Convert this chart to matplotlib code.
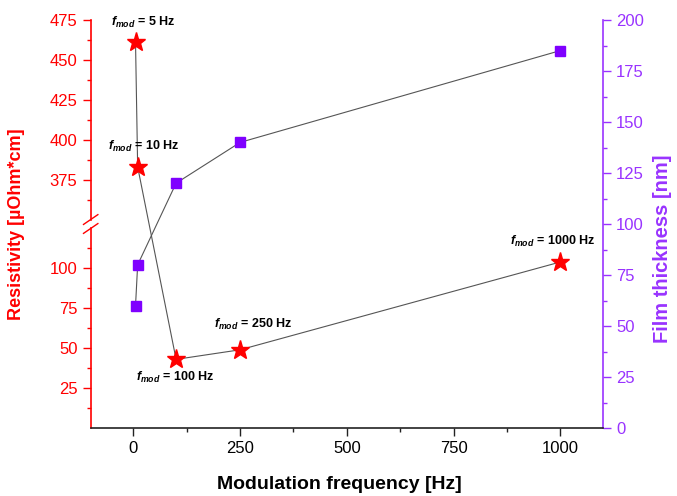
import numpy as np
import matplotlib
matplotlib.use("Agg")
import matplotlib.pyplot as plt
from matplotlib.ticker import FixedLocator, MultipleLocator

# ---------------- data ----------------
freq = [5, 10, 100, 250, 1000]
resistivity = [461, 383, 43, 49, 104]          # µOhm*cm (left axis, stars)
thickness = [60, 80, 120, 140, 185]            # nm (right axis, squares)
labels = ["5 Hz", "10 Hz", "100 Hz", "250 Hz", "1000 Hz"]
left_major = [25, 50, 75, 100, 375, 400, 425, 450, 475]
left_minor = [12.5, 37.5, 62.5, 87.5, 112.5, 362.5, 387.5, 412.5, 437.5, 462.5]
x_ticks = [0, 250, 500, 750, 1000]

# ---------------- style ----------------
RED = "#ff0000"
PURPLE = "#9933ff"
SQ = "#7f00ff"
LINE = "#555555"
label_offsets = [(8, 20), (6, 20), (-1, -18), (13, 25), (-8, 21)]  # pixels

plt.rcParams["font.family"] = ["Liberation Sans", "DejaVu Sans"]
plt.rcParams["mathtext.fontset"] = "custom"
plt.rcParams["mathtext.it"] = "Liberation Sans:italic:bold"
plt.rcParams["mathtext.rm"] = "Liberation Sans:bold"
plt.rcParams["mathtext.bf"] = "Liberation Sans:bold"

B1, B2, G = 125.0, 350.0, 5.6


def fwd(v):
    v = np.asarray(v, dtype=float)
    return np.where(v <= B1, v,
                    np.where(v >= B2, v - B2 + B1 + G, B1 + (v - B1) * G / (B2 - B1)))


def inv(u):
    u = np.asarray(u, dtype=float)
    return np.where(u <= B1, u,
                    np.where(u >= B1 + G, u - B1 - G + B2, B1 + (u - B1) * (B2 - B1) / G))


fig = plt.figure(figsize=(6.77, 4.96), dpi=100)
ax = fig.add_axes([90.7 / 677, 1 - 428 / 496, (603 - 90.7) / 677, (428 - 20) / 496])
ax.set_yscale("function", functions=(fwd, inv))
ax.set_xlim(-100, 1100)
ax.set_ylim(0, 475)

ax2 = ax.twinx()
ax2.set_ylim(0, 200)

# lines + markers
ax2.plot(freq, thickness, color=LINE, lw=0.8, zorder=2)
ax2.plot(freq, thickness, ls="none", marker="s", ms=7, color=SQ, mec=SQ, zorder=3)
ax.plot(freq, resistivity, color=LINE, lw=0.8, zorder=2)
ax.plot(freq, resistivity, ls="none", marker="*", ms=14, color=RED, mec=RED, zorder=3)
ax.set_zorder(ax2.get_zorder() + 1)
ax.patch.set_visible(False)

for f, r, lab, off in zip(freq, resistivity, labels, label_offsets):
    ax.annotate(r"$f_{mod}$ = " + lab, (f, r), xytext=off, textcoords="offset pixels",
                ha="center", va="center", fontsize=9, fontweight="bold", color="black")

# spines
for a in (ax, ax2):
    a.spines["top"].set_visible(False)
ax.spines["right"].set_visible(False)
ax2.spines["left"].set_visible(False)
ax2.spines["bottom"].set_visible(False)
ax.spines["left"].set_visible(False)
ax2.spines["right"].set_color(PURPLE)
ax2.spines["right"].set_linewidth(1.2)
ax.spines["bottom"].set_color("#222222")
ax.spines["bottom"].set_linewidth(1.2)

# left spine drawn manually with break
ytop_low = fwd(B1) / fwd(475)
ybot_up = fwd(B2) / fwd(475)
ax.plot([0, 0], [0, ytop_low], transform=ax.transAxes, color=RED, lw=1.2, clip_on=False)
ax.plot([0, 0], [ybot_up, 1], transform=ax.transAxes, color=RED, lw=1.2, clip_on=False)
for yb in (ytop_low, ybot_up):
    ax.plot([-0.014, 0.014], [yb - 0.012, yb + 0.012], transform=ax.transAxes,
            color=RED, lw=1.0, clip_on=False)

# ticks
ax.yaxis.set_major_locator(FixedLocator(left_major))
ax.yaxis.set_minor_locator(FixedLocator(left_minor))
ax.set_yticklabels([str(v) for v in left_major])
ax.xaxis.set_major_locator(FixedLocator(x_ticks))
ax.xaxis.set_minor_locator(MultipleLocator(125))
ax2.yaxis.set_major_locator(MultipleLocator(25))
ax2.yaxis.set_minor_locator(MultipleLocator(12.5))

ax.tick_params(axis="y", which="major", direction="out", length=6, width=1, color=RED,
               labelcolor=RED, labelsize=12, pad=3.5)
ax.tick_params(axis="y", which="minor", direction="out", length=3, width=1, color=RED)
ax.tick_params(axis="x", which="major", direction="out", length=6, width=1, color="#222222",
               labelsize=12, pad=3.5)
ax.tick_params(axis="x", which="minor", direction="out", length=3, width=1, color="#222222")
ax2.tick_params(axis="y", which="major", direction="out", length=6, width=1, color=PURPLE,
                labelcolor=PURPLE, labelsize=12, pad=3.5)
ax2.tick_params(axis="y", which="minor", direction="out", length=3, width=1, color=PURPLE)

ax.set_xlabel("Modulation frequency [Hz]", fontsize=14, fontweight="bold")
ax.xaxis.set_label_coords(0.486, -0.117)
ax.set_ylabel("Resistivity [µOhm*cm]", fontsize=13, fontweight="bold", color=RED)
ax.yaxis.set_label_coords(-0.128, 0.5)
ax2.set_ylabel("Film thickness [nm]", fontsize=14.5, fontweight="bold", color=PURPLE)
ax2.yaxis.set_label_coords(1.098, 0.44)

fig.savefig("out.png", dpi=100)
